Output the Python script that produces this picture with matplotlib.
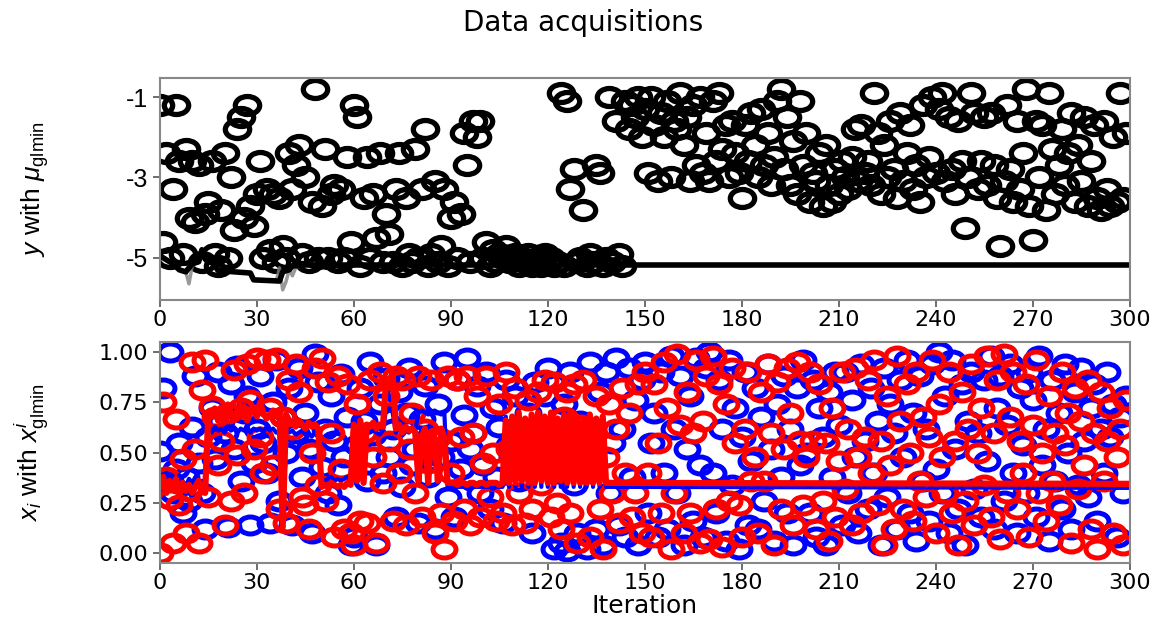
import numpy as np
import matplotlib
matplotlib.use("Agg")
import matplotlib.pyplot as plt
from matplotlib.path import Path
from matplotlib.transforms import Affine2D

# acquired objective values, one per iteration
y_acq = [
    -1.2, -4.6, -2.4, -5.0, -3.3, -1.2, -2.6, -4.9, -2.3, -4.0,
    -2.6, -4.1, -2.7, -5.1, -3.9, -3.6, -2.6, -4.9, -5.2, -3.8,
    -2.4, -5.0, -3.0, -4.3, -1.8, -1.5, -4.0, -1.2, -3.7, -4.2,
    -3.4, -2.6, -5.0, -3.3, -4.8, -3.4, -5.1, -3.5, -4.7, -5.0,
    -2.4, -3.3, -2.7, -2.2, -4.9, -3.0, -5.1, -3.6, -0.8, -5.0,
    -3.7, -2.3, -5.0, -3.4, -3.2, -5.1, -3.3, -5.0, -2.5, -4.6,
    -1.2, -1.5, -5.2, -3.5, -2.5, -5.0, -3.4, -4.5, -2.4, -5.1,
    -3.9, -4.4, -5.1, -3.3, -2.4, -5.2, -3.5, -4.9, -5.1, -2.3,
    -5.0, -3.3, -1.8, -5.2, -4.9, -3.1, -5.1, -4.7, -3.3, -5.2,
    -4.0, -3.6, -5.0, -3.9, -1.9, -2.7, -5.1, -1.6, -2.0, -1.6,
    -5.0, -4.6, -5.2, -4.8, -5.1, -4.9, -5.0, -4.7, -5.1, -5.0,
    -4.9, -5.2, -5.0, -5.1, -4.9, -5.2, -5.1, -5.0, -5.2, -4.9,
    -5.1, -5.0, -5.2, -5.1, -0.9, -5.2, -1.1, -3.3, -2.8, -5.1,
    -5.0, -3.8, -5.2, -4.9, -5.1, -2.7, -2.9, -5.2, -5.0, -1.0,
    -5.1, -1.6, -4.9, -5.2, -1.1, -1.8, -1.2, -1.5, -1.0, -2.0,
    -1.3, -2.9, -1.0, -1.7, -3.1, -1.4, -2.0, -1.1, -3.0, -1.6,
    -1.8, -0.9, -2.2, -1.5, -3.1, -1.2, -2.7, -1.0, -2.9, -1.9,
    -3.1, -1.1, -2.6, -0.9, -2.3, -1.7, -3.0, -1.6, -2.4, -2.9,
    -3.5, -1.7, -2.6, -1.4, -2.2, -3.0, -1.3, -2.7, -1.9, -3.2,
    -2.5, -1.1, -0.8, -2.8, -1.5, -3.2, -2.1, -3.4, -1.1, -2.7,
    -1.9, -3.6, -2.9, -3.1, -2.4, -3.7, -2.2, -3.2, -3.6, -2.8,
    -3.4, -2.6, -3.0, -3.3, -2.5, -1.8, -3.1, -1.7, -2.9, -2.6,
    -3.2, -0.9, -1.9, -3.4, -2.2, -3.0, -1.6, -2.8, -3.5, -1.4,
    -3.1, -2.4, -1.7, -3.3, -2.7, -3.6, -1.2, -3.0, -2.5, -1.0,
    -2.9, -1.3, -0.9, -3.1, -1.5, -2.8, -3.4, -1.6, -2.6, -4.25,
    -3.0, -0.9, -1.4, -3.3, -2.6, -1.5, -3.2, -1.4, -2.7, -3.5,
    -4.7, -3.1, -1.2, -2.8, -3.6, -1.6, -3.3, -2.4, -0.8, -3.7,
    -4.55, -1.6, -3.0, -1.7, -3.8, -0.9, -2.3, -3.4, -2.7, -1.8,
    -3.2, -2.4, -1.4, -3.6, -2.2, -3.1, -1.5, -3.7, -2.6, -1.7,
    -3.5, -3.8, -1.6, -3.3, -3.7, -2.0, -3.6, -0.9, -3.5, -1.9,
]

# incumbent curves (y_glmin black, mu_glmin gray)
best_iter = [0, 2, 4, 6, 8, 10, 12, 13, 15, 17, 18, 28, 29, 37, 38, 40, 41, 44, 45, 300]
best_y = [-4.95, -5.05, -5.15, -5.3, -5.35, -5.15, -5.1, -4.8, -5.0, -5.2,
          -5.32, -5.38, -5.55, -5.58, -5.35, -5.3, -5.2, -5.2, -5.18, -5.18]
mu_iter = [0, 2, 4, 6, 8, 9, 10, 12, 13, 15, 17, 18, 28, 29, 36, 37, 38, 39, 40, 41, 42, 44, 45, 300]
mu_y = [-4.95, -5.05, -5.15, -5.3, -5.35, -5.65, -5.2, -5.1, -4.85, -5.0, -5.2, -5.32,
        -5.38, -5.55, -5.58, -5.25, -5.8, -5.6, -5.3, -5.45, -5.25, -5.2, -5.18, -5.18]

# acquired inputs
x1_acq = [
    0.51, 0.82, 0.36, 1.00, 0.30, 0.42, 0.55, 0.20, 0.38, 0.26,
    0.63, 0.88, 0.45, 0.30, 0.12, 0.58, 0.72, 0.47, 0.90, 0.66,
    0.60, 0.13, 0.84, 0.52, 0.93, 0.36, 0.70, 0.78, 0.14, 0.45,
    0.62, 0.88, 0.55, 0.40, 0.15, 0.75, 0.96, 0.26, 0.68, 0.50,
    0.82, 0.14, 0.60, 0.92, 0.38, 0.70, 0.52, 0.10, 0.99, 0.85,
    0.43, 0.62, 0.30, 0.78, 0.56, 0.24, 0.89, 0.48, 0.68, 0.04,
    0.08, 0.54, 0.82, 0.66, 0.36, 0.95, 0.59, 0.04, 0.74, 0.40,
    0.87, 0.48, 0.62, 0.18, 0.80, 0.33, 0.70, 0.92, 0.44, 0.52,
    0.15, 0.67, 0.83, 0.38, 0.59, 0.12, 0.74, 0.48, 0.95, 0.28,
    0.56, 0.18, 0.86, 0.42, 0.69, 0.97, 0.52, 0.60, 0.83, 0.30,
    0.44, 0.90, 0.22, 0.72, 0.38, 0.63, 0.15, 0.86, 0.54, 0.48,
    0.78, 0.36, 0.62, 0.44, 0.70, 0.10, 0.85, 0.58, 0.46, 0.78,
    0.92, 0.52, 0.02, 0.40, 0.05, 0.74, 0.01, 0.90, 0.34, 0.10,
    0.66, 0.58, 0.02, 0.95, 0.46, 0.12, 0.80, 0.04, 0.90, 0.30,
    0.55, 0.97, 0.14, 0.62, 0.08, 0.92, 0.38, 0.76, 0.04, 0.86,
    0.95, 0.20, 0.55, 0.70, 0.08, 0.90, 0.40, 0.12, 0.98, 0.62,
    0.30, 0.88, 0.04, 0.52, 0.78, 0.16, 0.97, 0.44, 0.08, 0.92,
    1.00, 0.40, 0.20, 0.86, 0.62, 0.06, 0.96, 0.34, 0.72, 0.02,
    0.58, 0.90, 0.14, 0.46, 0.82, 0.12, 0.68, 0.26, 0.94, 0.52,
    0.06, 0.74, 0.38, 0.88, 0.20, 0.62, 0.04, 0.82, 0.44, 0.96,
    0.50, 0.20, 0.86, 0.08, 0.72, 0.58, 0.04, 0.80, 0.38, 0.90,
    0.64, 0.14, 0.90, 0.30, 0.76, 0.48, 0.10, 0.94, 0.56, 0.22,
    0.82, 0.40, 0.66, 0.04, 0.92, 0.28, 0.74, 0.60, 0.12, 0.86,
    0.48, 0.96, 0.20, 0.70, 0.06, 0.88, 0.36, 0.62, 0.16, 0.94,
    0.42, 1.00, 0.30, 0.78, 0.10, 0.96, 0.52, 0.22, 0.84, 0.04,
    0.66, 0.90, 0.32, 0.60, 0.18, 0.86, 0.46, 0.98, 0.12, 0.72,
    0.88, 0.26, 0.64, 0.94, 0.40, 0.10, 0.82, 0.54, 0.30, 0.90,
    0.76, 0.18, 0.98, 0.44, 0.62, 0.06, 0.86, 0.36, 0.70, 0.22,
    0.94, 0.50, 0.12, 0.80, 0.34, 0.92, 0.56, 0.28, 0.72, 0.84,
    0.16, 0.62, 0.40, 0.90, 0.58, 0.74, 0.08, 0.68, 0.30, 0.78,
]
x2_acq = [
    0.00, 0.75, 0.38, 0.27, 0.05, 0.67, 0.24, 0.47, 0.10, 0.31,
    0.95, 0.52, 0.05, 0.81, 0.96, 0.28, 0.73, 0.68, 0.44, 0.56,
    0.14, 0.70, 0.26, 0.91, 0.49, 0.72, 0.30, 0.94, 0.76, 0.52,
    0.97, 0.58, 0.40, 0.96, 0.72, 0.44, 0.97, 0.22, 0.68, 0.15,
    0.86, 0.62, 0.94, 0.80, 0.28, 0.24, 0.12, 0.50, 0.92, 0.34,
    0.97, 0.26, 0.85, 0.60, 0.08, 0.88, 0.42, 0.12, 0.84, 0.10,
    0.04, 0.74, 0.16, 0.60, 0.15, 0.86, 0.48, 0.05, 0.90, 0.35,
    0.78, 0.56, 0.16, 0.88, 0.40, 0.86, 0.14, 0.52, 0.70, 0.30,
    0.88, 0.18, 0.62, 0.45, 0.86, 0.10, 0.58, 0.20, 0.02, 0.88,
    0.40, 0.16, 0.86, 0.58, 0.22, 0.88, 0.14, 0.60, 0.78, 0.18,
    0.45, 0.88, 0.28, 0.50, 0.16, 0.74, 0.20, 0.90, 0.52, 0.14,
    0.82, 0.30, 0.56, 0.15, 0.76, 0.22, 0.60, 0.80, 0.34, 0.86,
    0.44, 0.18, 0.85, 0.25, 0.12, 0.68, 0.80, 0.20, 0.84, 0.05,
    0.64, 0.86, 0.40, 0.08, 0.52, 0.78, 0.22, 0.02, 0.48, 0.74,
    0.30, 0.62, 0.15, 0.82, 0.40, 0.70, 0.18, 0.30, 0.84, 0.10,
    0.90, 0.40, 0.08, 0.84, 0.55, 0.20, 0.95, 0.72, 0.02, 0.30,
    0.99, 0.64, 0.10, 0.80, 0.20, 0.60, 0.96, 0.05, 0.66, 0.88,
    0.07, 0.98, 0.22, 0.84, 0.03, 0.74, 0.26, 0.92, 0.55, 0.24,
    0.08, 0.62, 0.90, 0.36, 0.48, 0.10, 0.80, 0.36, 0.94, 0.60,
    0.04, 0.85, 0.22, 0.52, 0.92, 0.70, 0.14, 0.95, 0.56, 0.24,
    0.48, 0.90, 0.56, 0.12, 0.84, 0.26, 0.55, 0.06, 0.72, 0.18,
    0.46, 0.90, 0.32, 0.62, 0.14, 0.92, 0.48, 0.20, 0.58, 0.86,
    0.40, 0.96, 0.24, 0.56, 0.04, 0.78, 0.44, 0.12, 0.98, 0.66,
    0.22, 0.84, 0.50, 0.16, 0.90, 0.36, 0.68, 0.28, 0.58, 0.96,
    0.10, 0.74, 0.48, 0.30, 0.90, 0.20, 0.56, 0.04, 0.80, 0.26,
    0.62, 0.94, 0.14, 0.50, 0.72, 0.34, 0.98, 0.18, 0.60, 0.86,
    0.07, 0.99, 0.30, 0.68, 0.90, 0.22, 0.56, 0.40, 0.84, 0.08,
    0.64, 0.96, 0.30, 0.50, 0.16, 0.78, 0.36, 0.60, 0.24, 0.90,
    0.54, 0.70, 0.05, 0.82, 0.32, 0.66, 0.44, 0.86, 0.12, 0.60,
    0.02, 0.80, 0.36, 0.56, 0.72, 0.10, 0.48, 0.62, 0.04, 0.76,
]

# incumbent inputs, iterations 0..139 then the last iteration
x1_best = [
    0.38, 0.35, 0.40, 0.33, 0.37, 0.34, 0.39, 0.36, 0.33, 0.37,
    0.35, 0.38, 0.34, 0.36, 0.35, 0.62, 0.60, 0.63, 0.61, 0.62,
    0.60, 0.63, 0.61, 0.62, 0.60, 0.62, 0.61, 0.63, 0.60, 0.62,
    0.61, 0.62, 0.60, 0.63, 0.61, 0.62, 0.60, 0.61, 0.40, 0.62,
    0.60, 0.61, 0.59, 0.60, 0.61, 0.59, 0.60, 0.58, 0.60, 0.59,
    0.37, 0.36, 0.37, 0.38, 0.36, 0.37, 0.36, 0.37, 0.38, 0.36,
    0.60, 0.38, 0.61, 0.37, 0.60, 0.60, 0.61, 0.60, 0.59, 0.61,
    0.72, 0.72, 0.70, 0.60, 0.62, 0.59, 0.61, 0.60, 0.62, 0.61,
    0.70, 0.71, 0.70, 0.69, 0.70, 0.71, 0.70, 0.69, 0.70, 0.33,
    0.33, 0.33, 0.33, 0.33, 0.33, 0.32, 0.33, 0.33, 0.33, 0.33,
    0.33, 0.33, 0.33, 0.32, 0.33, 0.33, 0.33, 0.68, 0.33, 0.68,
    0.33, 0.70, 0.33, 0.67, 0.33, 0.69, 0.33, 0.70, 0.33, 0.68,
    0.33, 0.70, 0.33, 0.67, 0.33, 0.69, 0.33, 0.70, 0.33, 0.68,
    0.33, 0.66, 0.33, 0.69, 0.33, 0.67, 0.33, 0.68, 0.33, 0.33,
    0.325,
]
x2_best = [
    0.33, 0.38, 0.30, 0.36, 0.32, 0.37, 0.29, 0.35, 0.31, 0.34,
    0.30, 0.33, 0.36, 0.31, 0.30, 0.70, 0.68, 0.72, 0.66, 0.70,
    0.68, 0.74, 0.69, 0.67, 0.71, 0.68, 0.73, 0.66, 0.70, 0.72,
    0.68, 0.75, 0.70, 0.67, 0.69, 0.71, 0.68, 0.70, 0.13, 0.69,
    0.66, 0.65, 0.63, 0.66, 0.64, 0.62, 0.65, 0.63, 0.64, 0.62,
    0.33, 0.34, 0.33, 0.35, 0.34, 0.33, 0.34, 0.33, 0.35, 0.34,
    0.64, 0.36, 0.66, 0.35, 0.64, 0.63, 0.65, 0.62, 0.64, 0.63,
    0.86, 0.84, 0.90, 0.62, 0.64, 0.60, 0.63, 0.61, 0.62, 0.60,
    0.36, 0.58, 0.62, 0.35, 0.60, 0.57, 0.36, 0.62, 0.58, 0.35,
    0.35, 0.35, 0.34, 0.35, 0.35, 0.34, 0.35, 0.35, 0.34, 0.35,
    0.35, 0.34, 0.35, 0.35, 0.35, 0.34, 0.35, 0.66, 0.35, 0.68,
    0.35, 0.70, 0.36, 0.67, 0.35, 0.69, 0.35, 0.70, 0.36, 0.68,
    0.35, 0.70, 0.35, 0.67, 0.36, 0.69, 0.35, 0.70, 0.35, 0.68,
    0.35, 0.66, 0.35, 0.69, 0.35, 0.67, 0.35, 0.68, 0.35, 0.35,
    0.345,
]
best_x_iter = list(range(140)) + [300]

iters = np.arange(len(y_acq))

plt.rcParams['mathtext.fontset'] = 'custom'
plt.rcParams['mathtext.rm'] = 'Liberation Sans'
plt.rcParams['mathtext.it'] = 'Liberation Sans:italic'

# slightly flattened ring marker, like the stretched original
ring = Path.unit_circle().transformed(Affine2D().scale(1.0, 0.74))

fig = plt.figure(figsize=(11.67, 6.21), dpi=100)
ax1 = fig.add_axes([0.137, 0.517, 0.831, 0.357])
ax2 = fig.add_axes([0.137, 0.093, 0.831, 0.356])

ax1.plot(iters, y_acq, ls='none', marker=ring, ms=17.5, mfc='none', mec='black', mew=3.8)
ax1.plot(mu_iter, mu_y, color='gray', lw=2.5, alpha=0.8)
ax1.plot(best_iter, best_y, color='black', lw=4)
ax1.set_xlim(0, 300)
ax1.set_ylim(-6.05, -0.53)
ax1.set_yticks([-1, -3, -5])
ax1.set_yticklabels(['-1', '-3', '-5'], fontfamily='Liberation Sans', fontsize=18)
ax1.set_ylabel(r'$y$ with $\mu_{\mathrm{glmin}}$', fontfamily='Liberation Sans', fontsize=19)
ax1.yaxis.set_label_coords(-0.112, 0.5)

ax2.plot(iters, x1_acq, ls='none', marker=ring, ms=16.5, mfc='none', mec='blue', mew=3.6)
ax2.plot(iters, x2_acq, ls='none', marker=ring, ms=16.5, mfc='none', mec='red', mew=3.6)
ax2.plot(best_x_iter, x1_best, color='blue', lw=3)
ax2.plot(best_x_iter, x2_best, color='red', lw=4.5)
ax2.set_xlim(0, 300)
ax2.set_ylim(-0.05, 1.05)
ax2.set_yticks([0, 0.25, 0.5, 0.75, 1.0])
ax2.set_yticklabels(['0.00', '0.25', '0.50', '0.75', '1.00'], fontsize=16)
ax2.set_ylabel(r'$x_i$ with $x^i_{\mathrm{glmin}}$', fontfamily='Liberation Sans', fontsize=19)
ax2.yaxis.set_label_coords(-0.112, 0.5)
ax2.set_xlabel('Iteration', fontsize=18, labelpad=1)

for ax in (ax1, ax2):
    ax.set_xticks(range(0, 301, 30))
    ax.tick_params(axis='x', labelsize=16, pad=2)
    ax.tick_params(colors='#555555', labelcolor='black', length=5, width=1.2)
    for sp in ax.spines.values():
        sp.set_color('#888888')
        sp.set_linewidth(1.5)

fig.suptitle('Data acquisitions', fontsize=20, y=0.985)

fig.savefig('out.png', dpi=100)
